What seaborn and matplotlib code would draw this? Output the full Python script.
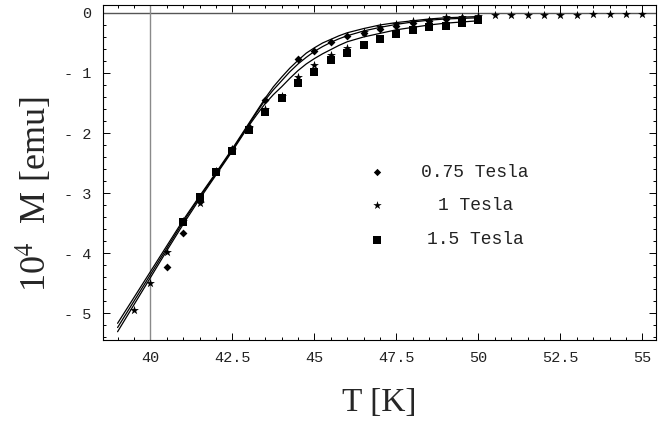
import numpy as np
import pandas as pd
import matplotlib.pyplot as plt
import seaborn as sns
from matplotlib.ticker import MultipleLocator

sns.set_theme(style="ticks")
plt.rcParams["font.family"] = ["Liberation Mono", "DejaVu Sans Mono"]
plt.rcParams["mathtext.fontset"] = "stix"

# ── fitted curves ──────────────────────────────────────────────────────────────
T_fit = [39.0, 39.5, 40.0, 40.5, 41.0, 41.5, 42.0, 42.5, 43.0, 43.25, 43.5, 43.75,
         44.0, 44.25, 44.5, 44.75, 45.0, 45.25, 45.5, 45.75, 46.0, 46.5, 47.0,
         47.5, 48.0, 48.5, 49.0, 49.5, 50.0]
fit_075 = [-5.17, -4.74, -4.31, -3.88, -3.45, -3.05, -2.66, -2.26, -1.84, -1.63, -1.42, -1.23,
           -1.07, -0.92, -0.79, -0.67, -0.58, -0.50, -0.44, -0.38, -0.33, -0.26, -0.20,
           -0.16, -0.13, -0.10, -0.08, -0.07, -0.06]
fit_1 = [-5.24, -4.80, -4.36, -3.92, -3.48, -3.07, -2.68, -2.28, -1.86, -1.65, -1.45, -1.28,
         -1.13, -0.98, -0.85, -0.74, -0.64, -0.56, -0.49, -0.43, -0.38, -0.30, -0.24,
         -0.19, -0.15, -0.12, -0.10, -0.09, -0.08]
fit_15 = [-5.31, -4.86, -4.41, -3.96, -3.52, -3.10, -2.70, -2.30, -1.88, -1.69, -1.51, -1.36,
          -1.23, -1.09, -0.96, -0.85, -0.76, -0.68, -0.61, -0.54, -0.48, -0.40, -0.34,
          -0.28, -0.24, -0.20, -0.17, -0.15, -0.13]

# ── measured points ────────────────────────────────────────────────────────────
T_075 = [40.5, 41.0, 41.5, 42.0, 42.5, 43.0, 43.5, 44.5, 45.0, 45.5, 46.0, 46.5,
         47.0, 47.5, 48.0, 48.5, 49.0, 49.5]
M_075 = [-4.23, -3.67, -3.13, -2.64, -2.27, -1.90, -1.45, -0.77, -0.63, -0.49, -0.39, -0.33,
         -0.27, -0.21, -0.16, -0.13, -0.10, -0.08]

T_1 = [39.5, 40.0, 40.5, 41.0, 41.5, 42.0, 42.5, 43.0, 43.5, 44.0, 44.5, 45.0, 45.5,
       46.0, 46.5, 47.0, 47.5, 48.0, 48.5, 49.0, 49.5, 50.0, 50.5, 51.0, 51.5, 52.0,
       52.5, 53.0, 53.5, 54.0, 54.5, 55.0]
M_1 = [-4.95, -4.49, -3.98, -3.47, -3.16, -2.63, -2.26, -1.90, -1.60, -1.38, -1.06, -0.87, -0.70,
       -0.59, -0.31, -0.24, -0.18, -0.14, -0.11, -0.07, -0.06, -0.05, -0.04, -0.04, -0.03, -0.03,
       -0.03, -0.03, -0.02, -0.02, -0.02, -0.02]

T_15 = [41.0, 41.5, 42.0, 42.5, 43.0, 43.5, 44.0, 44.5, 45.0, 45.5, 46.0, 46.5, 47.0,
        47.5, 48.0, 48.5, 49.0, 49.5, 50.0]
M_15 = [-3.49, -3.07, -2.65, -2.30, -1.95, -1.65, -1.41, -1.16, -0.98, -0.79, -0.66, -0.53, -0.44,
        -0.35, -0.29, -0.24, -0.21, -0.17, -0.11]

x_ticks = [40, 42.5, 45, 47.5, 50, 52.5, 55]
x_labels = ["40", "42.5", "45", "47.5", "50", "52.5", "55"]
y_ticks = [0, -1, -2, -3, -4, -5]
y_labels = ["0", "- 1", "- 2", "- 3", "- 4", "- 5"]
legend_labels = ["0.75 Tesla", "1 Tesla", "1.5 Tesla"]


fig = plt.figure(figsize=(6.72, 4.30), dpi=100)
ax = fig.add_axes([0.153, 0.209, 0.823, 0.779])

# axes through the origin, Mathematica style
ax.axhline(0, color="#555555", lw=1.0, zorder=1)
ax.axvline(40, color="#8a8a8a", lw=1.0, zorder=1)

for fit in (fit_075, fit_1, fit_15):
    sns.lineplot(x=T_fit, y=fit, color="black", lw=0.9, sort=False,
                 estimator=None, ax=ax, zorder=2)

sns.scatterplot(x=T_15, y=M_15, marker="s", s=40, color="black",
                linewidth=0, ax=ax, zorder=3)
sns.scatterplot(x=T_075, y=M_075, marker="D", s=16, color="black",
                linewidth=0, ax=ax, zorder=4)
sns.scatterplot(x=T_1, y=M_1, marker="*", s=45, color="black",
                linewidth=0, ax=ax, zorder=5)

# legend drawn by hand
for lab, mk, sz, ym in zip(legend_labels, ["D", "*", "s"], [14, 40, 28], [-2.65, -3.2, -3.78]):
    ax.scatter([46.9], [ym], marker=mk, s=sz, color="black", linewidth=0)
    ax.text(49.9, ym, lab, ha="center", va="center", fontsize=13, color="#222222")

ax.set_xlim(38.55, 55.41)
ax.set_ylim(-5.45, 0.13)
ax.set_xticks(x_ticks)
ax.set_xticklabels(x_labels)
ax.set_yticks(y_ticks)
ax.set_yticklabels(y_labels)
ax.xaxis.set_minor_locator(MultipleLocator(0.5))
ax.yaxis.set_minor_locator(MultipleLocator(0.2))
ax.tick_params(which="both", direction="in", top=True, right=True,
               labelsize=11, width=0.7, color="black", labelcolor="#222222", pad=8)
ax.tick_params(which="major", length=5)
ax.tick_params(which="minor", length=2.5)
for sp in ax.spines.values():
    sp.set_linewidth(0.8)
    sp.set_color("black")

ax.set_xlabel("T [K]", family=["Liberation Serif"], fontsize=24, labelpad=16)
ax.set_ylabel(r"10$^{4}$  M [emu]", family=["Liberation Serif"], fontsize=26)
ax.yaxis.set_label_coords(-0.088, 0.435)

fig.savefig("out.png", dpi=100, facecolor="white")
